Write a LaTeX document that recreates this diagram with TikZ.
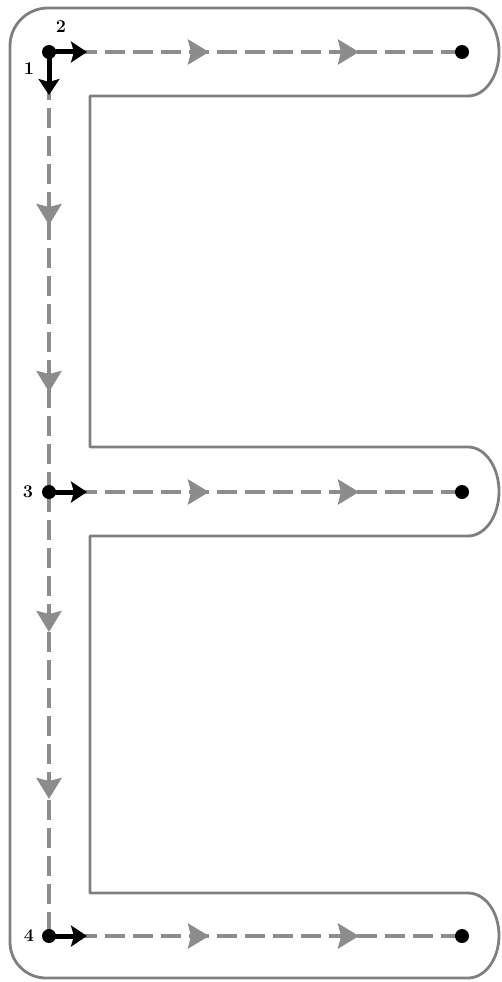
\documentclass[tikz,border=0pt]{standalone}
\usetikzlibrary{arrows.meta,decorations.markings}
\definecolor{outl}{HTML}{7F7F7F}
\definecolor{dashg}{HTML}{8C8C8C}
\tikzset{
  x=1pt, y=1pt,
  outline/.style={draw=outl, line width=2.8pt, line join=round},
  graydash/.style={draw=dashg, line width=4pt, dash pattern=on 20pt off 8pt},
  gtip/.style={dashg},
  blackarrow/.style={draw=black, line width=5pt, -{Stealth[length=16pt,width=21pt,inset=3pt]}},
  dot/.style={circle, fill=black, inner sep=0pt, minimum size=14pt},
  lbl/.style={font=\bfseries\fontsize{18}{18}\selectfont, inner sep=0pt},
  hmarks/.style={decoration={markings,
     mark=at position 160pt with {\arrow[gtip]{Stealth[length=21pt,width=25pt,inset=3pt]}},
     mark=at position 310pt with {\arrow[gtip]{Stealth[length=21pt,width=25pt,inset=3pt]}}}, postaction={decorate}},
  vmarksA/.style={decoration={markings,
     mark=at position 173pt with {\arrow[gtip]{Stealth[length=21pt,width=25pt,inset=3pt]}},
     mark=at position 340pt with {\arrow[gtip]{Stealth[length=21pt,width=25pt,inset=3pt]}}}, postaction={decorate}},
  vmarksB/.style={decoration={markings,
     mark=at position 140pt with {\arrow[gtip]{Stealth[length=21pt,width=25pt,inset=3pt]}},
     mark=at position 307pt with {\arrow[gtip]{Stealth[length=21pt,width=25pt,inset=3pt]}}}, postaction={decorate}},
}
\begin{document}
\begin{tikzpicture}
\useasboundingbox (0,0) rectangle (502,-982);
% outline of the E-shaped corridor
\draw[outline] (468,-8) -- (48,-8) arc[start angle=90, end angle=180, radius=38]
  -- (10,-942) arc[start angle=180, end angle=270, radius=36]
  -- (468,-978) arc[start angle=-90, end angle=90, x radius=31, y radius=42.5]
  -- (90,-893) -- (90,-536) -- (468,-536) arc[start angle=-90, end angle=90, x radius=31, y radius=44.5]
  -- (90,-447) -- (90,-96) -- (468,-96) arc[start angle=-90, end angle=90, x radius=31, y radius=44]
  -- cycle;
% points
\coordinate (s1) at (49,-52);
\coordinate (s3) at (49,-492);
\coordinate (s4) at (49,-936);
\coordinate (e1) at (462,-52);
\coordinate (e3) at (462,-492);
\coordinate (e4) at (462,-936);
\coordinate (t1) at (49,-95);
\coordinate (t2) at (87,-52);
\coordinate (t3) at (87,-492);
\coordinate (t4) at (87,-936);
% gray dashed paths
\draw[graydash, hmarks] (s1) -- (e1);
\draw[graydash, hmarks] (s3) -- (e3);
\draw[graydash, hmarks] (s4) -- (e4);
\draw[graydash, vmarksA] (s1) -- (s3);
\draw[graydash, vmarksB] (s3) -- (s4);
% black arrows
\draw[blackarrow] (s1) -- (t1);
\draw[blackarrow] (s1) -- (t2);
\draw[blackarrow] (s3) -- (t3);
\draw[blackarrow] (s4) -- (t4);
% dots
\node[dot] (d1) at (s1) {};
\node[dot] (d3) at (s3) {};
\node[dot] (d4) at (s4) {};
\node[dot] (f1) at (e1) {};
\node[dot] (f3) at (e3) {};
\node[dot] (f4) at (e4) {};
% labels
\node[lbl] (l2) at (61,-27) {2};
\node[lbl] (l1) at (29,-69) {1};
\node[lbl] (l3) at (28,-492) {3};
\node[lbl] (l4) at (29,-936) {4};
\end{tikzpicture}
\end{document}
